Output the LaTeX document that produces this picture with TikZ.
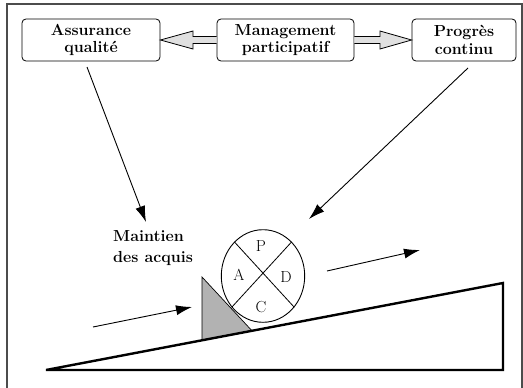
\documentclass[tikz,border=0pt]{standalone}
\usetikzlibrary{arrows.meta,shapes.geometric}
\begin{document}
\begin{tikzpicture}[x=1pt,y=-1pt,
  box/.style={draw,rounded corners=4pt,line width=0.8pt,align=center,inner sep=0pt,
    minimum height=42pt,font=\fontsize{16}{17.5}\selectfont\bfseries},
  lbl/.style={align=left,inner sep=0pt,font=\fontsize{16}{20.5}\selectfont\bfseries},
  letter/.style={inner sep=0pt,font=\fontsize{16}{18}\selectfont},
  arr/.style={line width=0.9pt,-{Latex[length=16pt,width=10pt]}},
  blockarrow/.style={fill=black!12,draw,line width=0.8pt,line join=miter},
  ground/.style={line width=2.4pt,line join=miter},
  frame/.style={draw=black!70,line width=1.2pt}]
\useasboundingbox (0,0) rectangle (523,388);
% outer frame (cropped)
\draw[frame] (7,388) -- (7,4) -- (522,4) -- (522,388);
% boxes
\node[box,minimum width=138pt] (aq) at (91,40) {Assurance\\qualité};
\node[box,minimum width=137pt] (mp) at (285.5,40) {Management\\participatif};
\node[box,minimum width=104pt] (pc) at (464,40) {Progrès\\continu};
% block arrows
\draw[blockarrow] (mp.west |- 0,36.5) -- (193,36.5) -- (193,31) -- (aq.east |- 0,40) -- (193,49) -- (193,43.5) -- (mp.west |- 0,43.5);
\draw[blockarrow] (mp.east |- 0,36.5) -- (380,36.5) -- (380,31) -- (pc.west |- 0,40) -- (380,49) -- (380,43.5) -- (mp.east |- 0,43.5);
% ground (inclined plane)
\coordinate (g1) at (46,370);
\coordinate (g2) at (503,370);
\coordinate (g3) at (503,283);
% wedge
\coordinate (w1) at (202,340.3);
\coordinate (w2) at (202,277);
\coordinate (w3) at (252,330.8);
\draw[fill=black!30,line width=0.7pt,line join=miter] (w1) -- (w2) -- (w3);
\draw[ground] (g1) -- (g2) -- (g3) -- cycle;
% PDCA wheel
\node[draw,ellipse,line width=0.9pt,minimum width=83.4pt,minimum height=92.6pt,inner sep=0pt] (pdca) at (263,276) {};
\draw[line width=0.8pt] (pdca.130) -- (pdca.-45);
\draw[line width=0.8pt] (pdca.50) -- (pdca.-135);
\node[letter] (P) at (261,246) {P};
\node[letter] (A) at (239,275) {A};
\node[letter] (D) at (286,277) {D};
\node[letter] (C) at (261,307) {C};
% label
\node[lbl,anchor=west] (ma) at (113,248) {Maintien\\des acquis};
% arrows
\coordinate (s1) at (87,67);
\coordinate (t1) at (146,222);
\coordinate (s2) at (468,68);
\coordinate (t2) at (309,219);
\coordinate (s3) at (327,271);
\coordinate (t3) at (420,250);
\coordinate (s4) at (93,327);
\coordinate (t4) at (192,307);
\draw[arr] (s1) -- (t1);
\draw[arr] (s2) -- (t2);
\draw[arr] (s3) -- (t3);
\draw[arr] (s4) -- (t4);
\end{tikzpicture}
\end{document}
